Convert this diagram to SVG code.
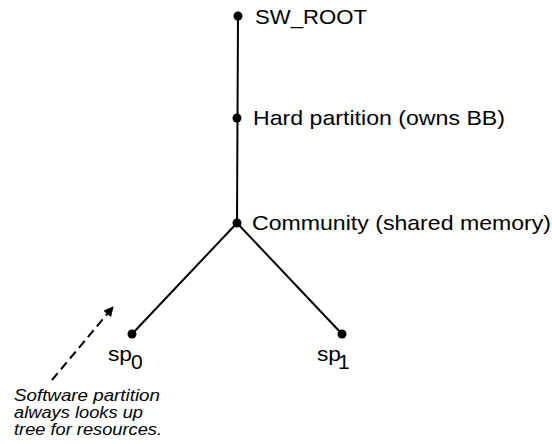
<svg xmlns="http://www.w3.org/2000/svg" width="552" height="444" viewBox="0 0 552 444">
<style>
.lbl{font-family:"Liberation Sans",Arial,sans-serif;font-size:21px;fill:#000}
.note{font-family:"Liberation Sans",Arial,sans-serif;font-size:16px;font-style:italic;fill:#000}
.edge{stroke:#000;stroke-width:2;fill:none}
.dot{fill:#000}
</style>
<defs>
<marker id="ah" viewBox="0 0 10 10" refX="9" refY="5" markerWidth="6" markerHeight="5" orient="auto" markerUnits="strokeWidth">
<path d="M0,0 L10,5 L0,10 z" fill="#000"/>
</marker>
</defs>
<g id="connectors">
<line class="edge" x1="238" y1="16" x2="237" y2="223"/>
<line class="edge" x1="237" y1="223" x2="132" y2="334"/>
<line class="edge" x1="237" y1="223" x2="342" y2="334"/>
<line class="edge" x1="52" y1="380" x2="113" y2="307" stroke-dasharray="9,5" marker-end="url(#ah)"/>
</g>
<g id="sw_root">
<circle class="dot" cx="238" cy="16" r="4.5"/>
<text class="lbl" x="255" y="24" textLength="112" lengthAdjust="spacingAndGlyphs">SW_ROOT</text>
</g>
<g id="hard_partition">
<circle class="dot" cx="237" cy="118" r="4.5"/>
<text class="lbl" x="253" y="125" textLength="252" lengthAdjust="spacingAndGlyphs">Hard partition (owns BB)</text>
</g>
<g id="community">
<circle class="dot" cx="237" cy="223" r="4.5"/>
<text class="lbl" x="252" y="230" textLength="299" lengthAdjust="spacingAndGlyphs">Community (shared memory)</text>
</g>
<g id="sp0">
<circle class="dot" cx="132" cy="334" r="4.5"/>
<text class="lbl" x="108" y="361" textLength="24" lengthAdjust="spacingAndGlyphs">sp</text>
<text class="lbl" x="131" y="369">0</text>
</g>
<g id="sp1">
<circle class="dot" cx="342" cy="334" r="4.5"/>
<text class="lbl" x="317" y="361" textLength="24" lengthAdjust="spacingAndGlyphs">sp</text>
<text class="lbl" x="338" y="369">1</text>
</g>
<g id="note">
<text class="note" x="14" y="401" textLength="146" lengthAdjust="spacingAndGlyphs">Software partition</text>
<text class="note" x="14" y="418" textLength="129" lengthAdjust="spacingAndGlyphs">always looks up</text>
<text class="note" x="14" y="435" textLength="148" lengthAdjust="spacingAndGlyphs">tree for resources.</text>
</g>
</svg>
